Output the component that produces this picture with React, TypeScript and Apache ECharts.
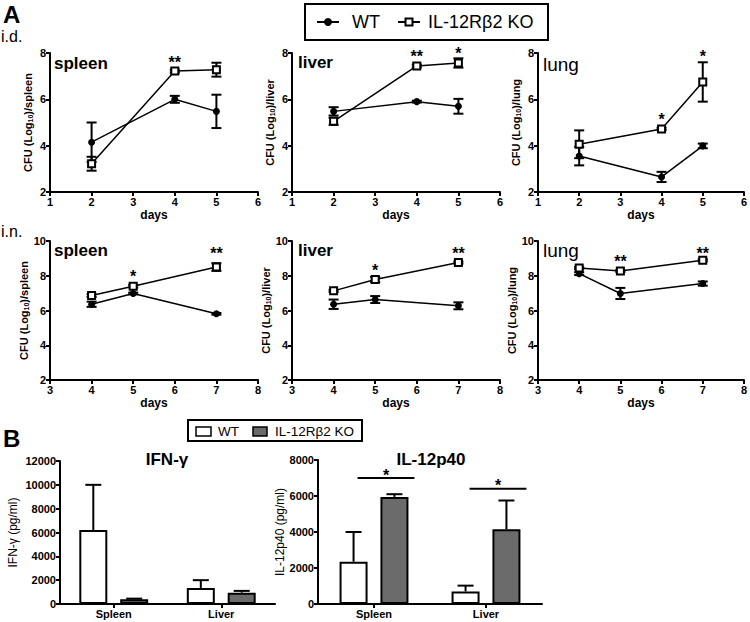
import React, { useEffect, useRef } from 'react';
import * as echarts from 'echarts';

const FONT = '"Liberation Sans", Arial, Helvetica, sans-serif';

// ---------- Panel A: CFU (log10) ----------
const idDays = [2, 4, 5];
const inDays = [4, 5, 7];
const organs = ['spleen', 'liver', 'lung'];

// i.d. route
const idSpleenWT = [4.15, 6.0, 5.48];
const idSpleenWTErr = [0.85, 0.15, 0.72];
const idSpleenKO = [3.22, 7.22, 7.28];
const idSpleenKOErr = [0.3, 0.06, 0.3];
const idLiverWT = [5.48, 5.9, 5.7];
const idLiverWTErr = [0.18, 0.04, 0.32];
const idLiverKO = [5.05, 7.44, 7.57];
const idLiverKOErr = [0.15, 0.06, 0.2];
const idLungWT = [3.55, 2.65, 3.99];
const idLungWTErr = [0.4, 0.22, 0.1];
const idLungKO = [4.06, 4.72, 6.75];
const idLungKOErr = [0.6, 0.05, 0.85];

// i.n. route
const inSpleenWT = [6.36, 6.98, 5.81];
const inSpleenWTErr = [0.15, 0.05, 0.05];
const inSpleenKO = [6.86, 7.4, 8.5];
const inSpleenKOErr = [0.08, 0.08, 0.22];
const inLiverWT = [6.36, 6.63, 6.27];
const inLiverWTErr = [0.27, 0.2, 0.2];
const inLiverKO = [7.13, 7.78, 8.76];
const inLiverKOErr = [0.06, 0.15, 0.06];
const inLungWT = [8.12, 6.98, 7.55];
const inLungWTErr = [0.08, 0.32, 0.12];
const inLungKO = [8.45, 8.28, 8.89];
const inLungKOErr = [0.06, 0.06, 0.06];

// significance marks: [day, y, mark]
const idSpleenSig: [number, number, string][] = [[4, 7.72, '**']];
const idLiverSig: [number, number, string][] = [[4, 7.97, '**'], [5, 8.1, '*']];
const idLungSig: [number, number, string][] = [[4, 5.24, '*'], [5, 7.97, '*']];
const inSpleenSig: [number, number, string][] = [[5, 8.12, '*'], [7, 9.46, '**']];
const inLiverSig: [number, number, string][] = [[5, 8.47, '*'], [7, 9.43, '**']];
const inLungSig: [number, number, string][] = [[5, 8.99, '**'], [7, 9.46, '**']];

// ---------- Panel B: cytokines ----------
const cytokineOrgans = ['Spleen', 'Liver'];
const ifngWT = [6200, 1350];
const ifngWTErr = [3800, 650];
const ifngKO = [400, 950];
const ifngKOErr = [50, 150];
const il12WT = [2350, 700];
const il12WTErr = [1650, 320];
const il12KO = [5950, 4150];
const il12KOErr = [150, 1600];
const il12Sig = [7000, 6400];
const il12SigMarks = ['*', '*'];

const WT_NAME = 'WT';
const KO_NAME = 'IL-12Rβ2 KO';

// ---------- layout / style ----------
const gridLefts = [50, 292, 538];
const gridWidths = [208, 208, 209];
const rowTops = [53, 241];
const rowHeight = 139;
const BAR_W = 28;
const BAR_GAP = 0.46;
const BAR_DX = (BAR_W * (1 + BAR_GAP)) / 2;
const KO_GRAY = '#6b6b6b';

const axisLine = { show: true, onZero: false, lineStyle: { color: '#000', width: 2 } };
const axisTick = { show: true, length: 4, lineStyle: { color: '#000', width: 2 } };
const axisLabel = { color: '#000', fontSize: 11, fontWeight: 'bold', fontFamily: FONT, margin: 4 };

function errRender(capHalf: number, dx: number, both: boolean) {
  return (params: any, api: any) => {
    const x = api.value(0);
    const lo = api.coord([x, api.value(1)]);
    const hi = api.coord([x, api.value(2)]);
    const style = { stroke: '#000', lineWidth: 2, fill: 'none' };
    const cx = lo[0] + dx;
    const children: any[] = [
      { type: 'line', shape: { x1: cx, y1: lo[1], x2: cx, y2: hi[1] }, style },
      { type: 'line', shape: { x1: cx - capHalf, y1: hi[1], x2: cx + capHalf, y2: hi[1] }, style },
    ];
    if (both) children.push({ type: 'line', shape: { x1: cx - capHalf, y1: lo[1], x2: cx + capHalf, y2: lo[1] }, style });
    return { type: 'group', children };
  };
}

function buildOption() {
  const grid: any[] = [];
  const xAxis: any[] = [];
  const yAxis: any[] = [];
  const series: any[] = [];

  const panels = [
    { days: idDays, wt: idSpleenWT, wtErr: idSpleenWTErr, ko: idSpleenKO, koErr: idSpleenKOErr, sig: idSpleenSig },
    { days: idDays, wt: idLiverWT, wtErr: idLiverWTErr, ko: idLiverKO, koErr: idLiverKOErr, sig: idLiverSig },
    { days: idDays, wt: idLungWT, wtErr: idLungWTErr, ko: idLungKO, koErr: idLungKOErr, sig: idLungSig },
    { days: inDays, wt: inSpleenWT, wtErr: inSpleenWTErr, ko: inSpleenKO, koErr: inSpleenKOErr, sig: inSpleenSig },
    { days: inDays, wt: inLiverWT, wtErr: inLiverWTErr, ko: inLiverKO, koErr: inLiverKOErr, sig: inLiverSig },
    { days: inDays, wt: inLungWT, wtErr: inLungWTErr, ko: inLungKO, koErr: inLungKOErr, sig: inLungSig },
  ];

  panels.forEach((p, i) => {
    const row = Math.floor(i / 3);
    const col = i % 3;
    grid.push({ left: gridLefts[col], top: rowTops[row], width: gridWidths[col], height: rowHeight });
    xAxis.push({
      type: 'value', gridIndex: i, min: row ? 3 : 1, max: row ? 8 : 6, interval: 1,
      name: 'days', nameLocation: 'middle', nameGap: 17,
      nameTextStyle: { color: '#000', fontSize: 12, fontWeight: 'bold', fontFamily: FONT },
      axisLine, axisTick, axisLabel, splitLine: { show: false },
    });
    yAxis.push({
      type: 'value', gridIndex: i, min: 2, max: row ? 10 : 8, interval: 2,
      name: `CFU (Log{sub|10})/${organs[col]}`, nameLocation: 'middle', nameRotate: 90, nameGap: 16,
      nameTextStyle: {
        color: '#000', fontSize: 11, fontWeight: 'bold', fontFamily: FONT,
        rich: { sub: { color: '#000', fontSize: 7, fontWeight: 'bold', fontFamily: FONT, padding: [5, 0, 0, 0] } },
      },
      axisLine, axisTick, axisLabel, splitLine: { show: false },
    });
    const errSeries = (vals: number[], errs: number[], z: number) => ({
      type: 'custom', xAxisIndex: i, yAxisIndex: i, silent: true, z,
      data: p.days.map((d, k) => [d, vals[k] - errs[k], vals[k] + errs[k]]),
      renderItem: errRender(5, 0, true),
    });
    series.push(errSeries(p.wt, p.wtErr, 2));
    series.push(errSeries(p.ko, p.koErr, 2));
    series.push({
      type: 'line', name: WT_NAME, xAxisIndex: i, yAxisIndex: i, silent: true, z: 3,
      data: p.days.map((d, k) => [d, p.wt[k]]),
      symbol: 'circle', symbolSize: 7,
      lineStyle: { color: '#000', width: 1.5 }, itemStyle: { color: '#000' },
    });
    series.push({
      type: 'line', name: KO_NAME, xAxisIndex: i, yAxisIndex: i, silent: true, z: 4,
      data: p.days.map((d, k) => [d, p.ko[k]]),
      symbol: 'rect', symbolSize: 7,
      lineStyle: { color: '#000', width: 1.5 }, itemStyle: { color: '#fff', borderColor: '#000', borderWidth: 2 },
    });
    const sig = p.sig;
    series.push({
      type: 'custom', xAxisIndex: i, yAxisIndex: i, silent: true, z: 5, clip: false,
      data: sig.map((s) => [s[0], s[1]]),
      renderItem: (params: any, api: any) => {
        const pt = api.coord([api.value(0), api.value(1)]);
        return {
          type: 'text', x: pt[0], y: pt[1] + 3,
          style: {
            text: sig[params.dataIndex][2], fill: '#000', fontSize: 16, fontWeight: 'bold', fontFamily: FONT,
            align: 'center', verticalAlign: 'middle', textAlign: 'center', textVerticalAlign: 'middle',
          },
        };
      },
    });
  });

  // ---------- bar panels ----------
  const barPanels = [
    { left: 60, top: 461, width: 215, height: 143, max: 12000, name: 'IFN-γ (pg/ml)', gap: 41,
      wt: ifngWT, wtErr: ifngWTErr, ko: ifngKO, koErr: ifngKOErr },
    { left: 318, top: 460, width: 224, height: 144, max: 8000, name: 'IL-12p40 (pg/ml)', gap: 26,
      wt: il12WT, wtErr: il12WTErr, ko: il12KO, koErr: il12KOErr },
  ];
  barPanels.forEach((b, j) => {
    const gi = 6 + j;
    grid.push({ left: b.left, top: b.top, width: b.width, height: b.height });
    xAxis.push({
      type: 'category', gridIndex: gi, data: cytokineOrgans,
      axisLine, axisTick: { ...axisTick, alignWithLabel: true },
      axisLabel: { ...axisLabel, fontSize: 11, margin: 4 },
    });
    yAxis.push({
      type: 'value', gridIndex: gi, min: 0, max: b.max, interval: 2000,
      name: b.name, nameLocation: 'middle', nameRotate: 90, nameGap: b.gap,
      nameTextStyle: { color: '#000', fontSize: 12, fontFamily: FONT },
      axisLine, axisTick, axisLabel: { ...axisLabel, formatter: (v: number) => String(v) },
      splitLine: { show: false },
    });
    series.push({
      type: 'bar', name: WT_NAME, xAxisIndex: gi, yAxisIndex: gi, silent: true, data: b.wt,
      barWidth: BAR_W, barGap: `${BAR_GAP * 100}%`, z: 2,
      itemStyle: { color: '#fff', borderColor: '#000', borderWidth: 2 },
    });
    series.push({
      type: 'bar', name: KO_NAME, xAxisIndex: gi, yAxisIndex: gi, silent: true, data: b.ko,
      barWidth: BAR_W, barGap: `${BAR_GAP * 100}%`, z: 2,
      itemStyle: { color: KO_GRAY, borderColor: '#000', borderWidth: 2 },
    });
    series.push({
      type: 'custom', xAxisIndex: gi, yAxisIndex: gi, silent: true, z: 1,
      data: b.wt.map((v, k) => [k, v, v + b.wtErr[k]]),
      renderItem: errRender(8, -BAR_DX, false),
    });
    series.push({
      type: 'custom', xAxisIndex: gi, yAxisIndex: gi, silent: true, z: 1,
      data: b.ko.map((v, k) => [k, v, v + b.koErr[k]]),
      renderItem: errRender(8, BAR_DX, false),
    });
  });

  // significance bars for IL-12p40
  series.push({
    type: 'custom', xAxisIndex: 7, yAxisIndex: 7, silent: true, z: 5, clip: false,
    data: il12Sig.map((v, k) => [k, v]),
    renderItem: (params: any, api: any) => {
      const pt = api.coord([api.value(0), api.value(1)]);
      const x1 = pt[0] - BAR_DX + 4;
      const x2 = pt[0] + BAR_DX + BAR_W / 2 + 6;
      return {
        type: 'group',
        children: [
          { type: 'line', shape: { x1, y1: pt[1], x2, y2: pt[1] }, style: { stroke: '#000', lineWidth: 2 } },
          {
            type: 'text', x: (x1 + x2) / 2, y: pt[1] - 3,
            style: {
              text: il12SigMarks[params.dataIndex], fill: '#000', fontSize: 16, fontWeight: 'bold', fontFamily: FONT,
              align: 'center', verticalAlign: 'middle', textAlign: 'center', textVerticalAlign: 'middle',
            },
          },
        ],
      };
    },
  });

  const txt = (text: string, x: number, y: number, size: number, bold: boolean, align = 'left') => ({
    type: 'text', x, y, silent: true,
    style: {
      text, fill: '#000', fontSize: size, fontWeight: bold ? 'bold' : 'normal', fontFamily: FONT,
      align, verticalAlign: 'middle', textAlign: align, textVerticalAlign: 'middle',
    },
  });

  const graphic: any[] = [
    txt('A', 3, 14, 24, true),
    txt('i.d.', 1, 36, 16, false),
    txt('i.n.', 1, 231, 16, false),
    txt('B', 3, 438, 24, true),
    // panel titles
    txt('spleen', 54, 63, 17, true),
    txt('liver', 298, 62, 17, true),
    txt('lung', 543, 64, 19, false),
    txt('spleen', 54, 250, 17, true),
    txt('liver', 298, 250, 17, true),
    txt('lung', 543, 250, 19, false),
    txt('IFN-γ', 167, 459, 17, true, 'center'),
    txt('IL-12p40', 431, 459, 17, true, 'center'),
    // top legend
    { type: 'rect', shape: { x: 305, y: 4, width: 243, height: 36 }, style: { fill: '#fff', stroke: '#000', lineWidth: 2 } },
    { type: 'line', shape: { x1: 317, y1: 22, x2: 339, y2: 22 }, style: { stroke: '#000', lineWidth: 2 } },
    { type: 'circle', shape: { cx: 328, cy: 22, r: 4 }, style: { fill: '#000' } },
    txt(WT_NAME, 352, 22, 18, false),
    { type: 'line', shape: { x1: 398, y1: 22, x2: 420, y2: 22 }, style: { stroke: '#000', lineWidth: 2 } },
    { type: 'rect', shape: { x: 405.5, y: 18.5, width: 7, height: 7 }, style: { fill: '#fff', stroke: '#000', lineWidth: 2 } },
    txt(KO_NAME, 428, 22, 18, false),
    // bottom legend
    { type: 'rect', shape: { x: 188, y: 420, width: 174, height: 21 }, style: { fill: '#fff', stroke: '#000', lineWidth: 2 } },
    { type: 'rect', shape: { x: 196, y: 427, width: 15, height: 9 }, style: { fill: '#fff', stroke: '#000', lineWidth: 1.5 } },
    txt(WT_NAME, 218, 431.5, 13.5, false),
    { type: 'rect', shape: { x: 253, y: 427, width: 14, height: 9 }, style: { fill: KO_GRAY, stroke: '#000', lineWidth: 1.5 } },
    txt(KO_NAME, 275, 431.5, 13.5, false),
  ];

  return {
    animation: false,
    backgroundColor: '#fff',
    textStyle: { fontFamily: FONT },
    grid, xAxis, yAxis, series, graphic,
  };
}

export default function App() {
  const ref = useRef<HTMLDivElement>(null);
  useEffect(() => {
    const chart = echarts.init(ref.current!, null, { renderer: 'svg' });
    chart.setOption(buildOption() as any);
    return () => chart.dispose();
  }, []);
  return (
    <div
      ref={ref}
      style={{ position: 'absolute', left: 0, top: 0, width: 750, height: 622, background: '#fff' }}
    />
  );
}
